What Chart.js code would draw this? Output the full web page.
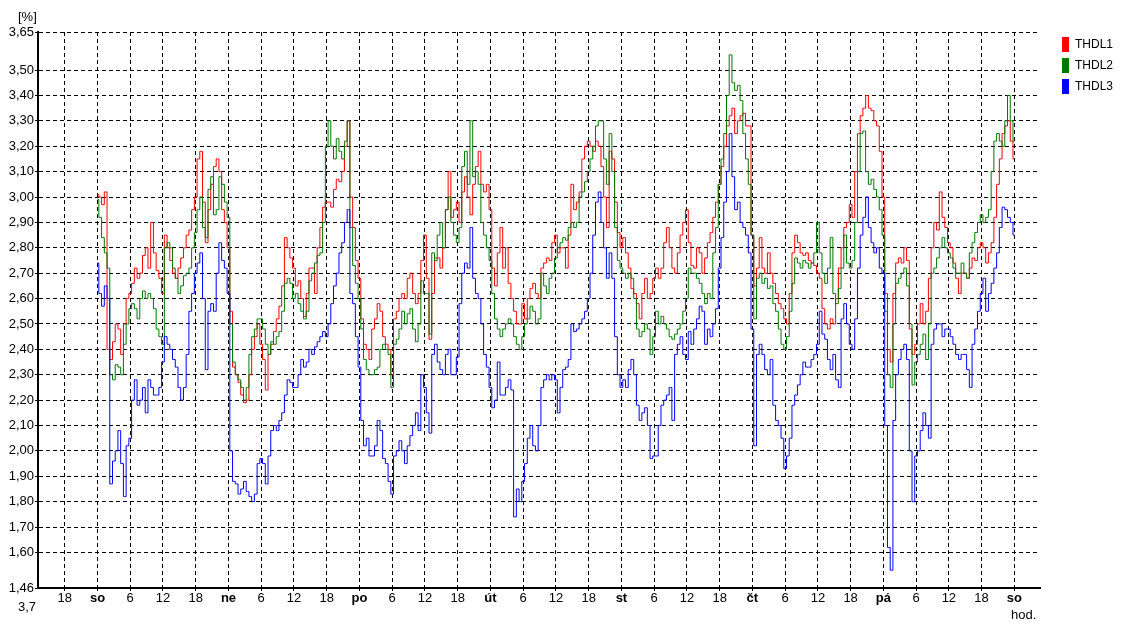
<!DOCTYPE html>
<html>
<head>
<meta charset="utf-8">
<script src="https://cdn.jsdelivr.net/npm/chart.js@4/dist/chart.umd.min.js"></script>
<style>
  html, body { margin: 0; padding: 0; background: #fff; }
  #wrap { position: relative; width: 1124px; height: 626px; font-family: "Liberation Sans", Arial, sans-serif; color: #000; }
  #chart { position: absolute; left: 0; top: 0; }
  .note { position: absolute; font-size: 13px; line-height: 13px; white-space: nowrap; }
  .key { position: absolute; left: 1062px; height: 15px; font-size: 12px; line-height: 15px; white-space: nowrap; }
  .key i { display: inline-block; width: 7px; height: 15px; vertical-align: top; margin-right: 6px; }
</style>
</head>
<body>
<div id="wrap">
  <canvas id="chart" width="1124" height="626"></canvas>
  <div class="note" style="left:18px; top:10px;">[%]</div>
  <div class="note" style="left:18px; top:600px;">3,7</div>
  <div class="note" style="left:1011px; top:608px;">hod.</div>
  <div class="key" style="top:37px;"><i style="background:#ff0000"></i>THDL1</div>
  <div class="key" style="top:58px;"><i style="background:#007800"></i>THDL2</div>
  <div class="key" style="top:79px;"><i style="background:#0000ff"></i>THDL3</div>
</div>
<script>
// Readings every 30 minutes, Saturday 00:00 through the following Saturday 00:00.
// Each row below spans six hours.
const sampleStepHours = 0.5;

const thdl1 = [
  3.01, 3.00, 2.97, 3.02, 2.40, 2.36, 2.43, 2.50, 2.48, 2.38, 2.50, 2.60, 2.62,
  2.66, 2.72, 2.68, 2.70, 2.77, 2.80, 2.72, 2.90, 2.78, 2.71, 2.68, 2.62,
  2.85, 2.80, 2.75, 2.70, 2.68, 2.72, 2.76, 2.80, 2.85, 2.87, 2.95, 3.00,
  3.15, 3.18, 2.98, 2.82, 2.95, 3.05, 3.12, 3.15, 3.10, 2.95, 2.90, 2.80,
  2.55, 2.33, 2.30, 2.27, 2.22, 2.19, 2.20, 2.30, 2.40, 2.45, 2.50, 2.42,
  2.36, 2.24, 2.38, 2.42, 2.47, 2.52, 2.57, 2.65, 2.84, 2.80, 2.76, 2.72,
  2.65, 2.67, 2.60, 2.53, 2.62, 2.72, 2.72, 2.62, 2.80, 2.88, 2.96, 2.98,
  2.98, 2.96, 3.03, 3.07, 3.06, 3.10, 3.20, 3.30, 3.00, 2.88, 2.75, 2.68,
  2.52, 2.42, 2.40, 2.36, 2.48, 2.52, 2.58, 2.55, 2.45, 2.42, 2.40, 2.30,
  2.52, 2.55, 2.60, 2.62, 2.60, 2.68, 2.70, 2.62, 2.58, 2.62, 2.75, 2.85,
  2.68, 2.44, 2.62, 2.76, 2.76, 2.72, 2.80, 2.95, 3.10, 2.92, 2.95, 2.98,
  2.90, 3.02, 3.08, 3.00, 2.93, 3.05, 3.12, 3.18, 3.05, 3.02, 3.05, 2.95,
  2.72, 2.65, 2.78, 2.88, 2.72, 2.80, 2.66, 2.60, 2.55, 2.50, 2.50, 2.58,
  2.52, 2.60, 2.64, 2.66, 2.62, 2.60, 2.72, 2.74, 2.76, 2.75, 2.82, 2.85,
  2.78, 2.80, 2.80, 2.72, 2.85, 3.05, 2.95, 2.98, 3.02, 3.15, 3.20, 3.22,
  3.20, 3.18, 3.22, 3.20, 3.12, 3.00, 2.88, 3.18, 3.15, 2.98, 2.86, 2.80,
  2.84, 2.78, 2.72, 2.64, 2.62, 2.58, 2.52, 2.62, 2.68, 2.60, 2.62, 2.68,
  2.72, 2.68, 2.72, 2.82, 2.88, 2.80, 2.72, 2.70, 2.78, 2.85, 2.90, 2.95,
  2.82, 2.73, 2.72, 2.80, 2.78, 2.70, 2.76, 2.82, 2.86, 2.92, 2.98, 3.05,
  3.12, 3.20, 3.28, 3.32, 3.35, 3.25, 3.30, 3.32, 3.33, 3.28, 3.28, 2.85,
  2.65, 2.72, 2.84, 2.72, 2.70, 2.78, 2.70, 2.66, 2.62, 2.58, 2.56, 2.52,
  2.50, 2.62, 2.78, 2.85, 2.82, 2.78, 2.77, 2.78, 2.75, 2.74, 2.73, 2.70,
  2.68, 2.56, 2.50, 2.48, 2.52, 2.50, 2.60, 2.72, 2.80, 2.88, 2.90, 2.97,
  2.92, 3.10, 3.25, 3.32, 3.35, 3.40, 3.35, 3.34, 3.30, 3.28, 3.18, 3.00,
  2.62, 2.40, 2.35, 2.62, 2.74, 2.76, 2.74, 2.80, 2.75, 2.48, 2.38, 2.42,
  2.50, 2.58, 2.50, 2.55, 2.68, 2.80, 2.90, 2.87, 3.02, 2.92, 2.88, 2.82,
  2.80, 2.74, 2.68, 2.62, 2.70, 2.70, 2.68, 2.72, 2.76, 2.75, 2.80, 2.82,
  2.80, 2.74, 2.78, 2.82, 2.92, 3.05, 3.15, 3.25, 3.28, 3.30, 3.22, 3.15
];

const thdl2 = [
  2.99, 2.92, 2.84, 2.78, 2.72, 2.30, 2.28, 2.34, 2.33, 2.30, 2.42, 2.50, 2.56,
  2.58, 2.56, 2.52, 2.60, 2.63, 2.60, 2.62, 2.60, 2.56, 2.48, 2.45, 2.42,
  2.80, 2.82, 2.80, 2.72, 2.68, 2.62, 2.65, 2.69, 2.70, 2.72, 2.80, 2.86,
  2.95, 3.00, 2.88, 2.84, 3.03, 3.08, 2.93, 2.95, 3.08, 3.05, 2.98, 2.92,
  2.50, 2.35, 2.30, 2.28, 2.25, 2.20, 2.25, 2.38, 2.45, 2.48, 2.52, 2.52,
  2.48, 2.42, 2.38, 2.43, 2.42, 2.45, 2.47, 2.55, 2.66, 2.68, 2.66, 2.60,
  2.62, 2.58, 2.55, 2.52, 2.55, 2.67, 2.70, 2.74, 2.77, 2.78, 2.90, 3.20,
  3.30, 3.20, 3.15, 3.23, 3.18, 3.15, 3.22, 3.30, 2.88, 2.73, 2.66, 2.60,
  2.48, 2.36, 2.32, 2.30, 2.30, 2.32, 2.33, 2.40, 2.42, 2.40, 2.38, 2.25,
  2.42, 2.44, 2.48, 2.55, 2.50, 2.54, 2.56, 2.48, 2.43, 2.50, 2.67, 2.62,
  2.62, 2.46, 2.78, 2.75, 2.85, 2.90, 2.80, 2.95, 3.00, 2.90, 2.85, 2.82,
  2.88, 3.12, 3.18, 3.05, 3.30, 3.08, 3.10, 3.05, 2.90, 2.85, 2.80, 2.75,
  2.62, 2.52, 2.48, 2.45, 2.48, 2.50, 2.52, 2.50, 2.45, 2.42, 2.40, 2.45,
  2.50, 2.52, 2.57, 2.55, 2.50, 2.52, 2.70, 2.65, 2.62, 2.68, 2.70, 2.76,
  2.80, 2.82, 2.84, 2.83, 2.88, 2.90, 2.88, 2.90, 3.00, 3.02, 3.06, 3.10,
  3.15, 3.20, 3.28, 3.30, 3.30, 3.15, 3.05, 3.25, 3.10, 2.88, 2.75, 2.72,
  2.70, 2.68, 2.70, 2.68, 2.60, 2.48, 2.45, 2.47, 2.50, 2.48, 2.38, 2.45,
  2.55, 2.50, 2.53, 2.50, 2.48, 2.45, 2.44, 2.46, 2.48, 2.50, 2.55, 2.60,
  2.72, 2.70, 2.70, 2.68, 2.66, 2.62, 2.58, 2.62, 2.60, 2.78, 2.88, 3.05,
  3.15, 3.25, 3.40, 3.56, 3.45, 3.42, 3.44, 3.38, 3.25, 3.15, 3.05, 2.85,
  2.52, 2.68, 2.70, 2.66, 2.68, 2.64, 2.65, 2.58, 2.55, 2.48, 2.42, 2.40,
  2.45, 2.55, 2.66, 2.76, 2.74, 2.72, 2.75, 2.74, 2.72, 2.74, 2.78, 2.90,
  2.78, 2.70, 2.66, 2.72, 2.84, 2.62, 2.58, 2.64, 2.72, 2.85, 2.74, 2.72,
  2.75, 2.90, 3.10, 3.25, 3.26, 3.10, 3.05, 3.07, 3.03, 3.00, 2.95, 2.85,
  2.55, 2.30, 2.25, 2.50, 2.66, 2.68, 2.70, 2.72, 2.65, 2.50, 2.26, 2.35,
  2.38, 2.42, 2.46, 2.36, 2.50, 2.70, 2.72, 2.76, 2.80, 2.84, 2.80, 2.78,
  2.76, 2.72, 2.70, 2.70, 2.74, 2.70, 2.68, 2.78, 2.82, 2.86, 2.90, 2.93,
  2.90, 2.92, 2.95, 3.10, 3.22, 3.25, 3.22, 3.20, 3.30, 3.40, 3.30, 3.22
];

const thdl3 = [
  2.74, 2.62, 2.57, 2.65, 2.60, 1.87, 1.96, 2.00, 2.08, 1.95, 1.82, 2.02, 2.05,
  2.20, 2.28, 2.18, 2.20, 2.25, 2.15, 2.28, 2.25, 2.22, 2.22, 2.25, 2.35,
  2.45, 2.42, 2.40, 2.36, 2.33, 2.25, 2.20, 2.25, 2.38, 2.55, 2.62, 2.70,
  2.74, 2.78, 2.60, 2.32, 2.55, 2.58, 2.55, 2.70, 2.82, 2.75, 2.72, 2.62,
  2.00, 1.88, 1.87, 1.83, 1.85, 1.88, 1.84, 1.82, 1.80, 1.83, 1.95, 1.97,
  1.95, 1.87, 1.98, 2.08, 2.10, 2.08, 2.12, 2.15, 2.22, 2.28, 2.27, 2.25,
  2.25, 2.30, 2.36, 2.33, 2.35, 2.40, 2.38, 2.41, 2.43, 2.45, 2.47, 2.45,
  2.50, 2.58, 2.65, 2.70, 2.78, 2.82, 2.90, 2.95, 2.62, 2.58, 2.45, 2.33,
  2.12, 2.02, 2.05, 1.98, 1.98, 2.02, 2.12, 2.08, 1.97, 1.95, 1.88, 1.83,
  1.98, 2.00, 2.04, 2.00, 1.95, 2.02, 2.06, 2.10, 2.15, 2.08, 2.30, 2.25,
  2.15, 2.07, 2.38, 2.42, 2.35, 2.32, 2.30, 2.38, 2.40, 2.30, 2.30, 2.37,
  2.58, 2.70, 2.74, 2.72, 2.88, 2.68, 2.62, 2.60, 2.50, 2.38, 2.33, 2.25,
  2.17, 2.20, 2.35, 2.22, 2.22, 2.25, 2.28, 2.24, 1.74, 1.85, 1.80, 1.88,
  1.95, 2.05, 2.10, 2.02, 2.00, 2.10, 2.25, 2.28, 2.30, 2.28, 2.30, 2.28,
  2.15, 2.25, 2.32, 2.33, 2.36, 2.50, 2.47, 2.48, 2.50, 2.52, 2.55, 2.60,
  2.70, 2.85, 2.98, 3.02, 2.90, 2.80, 2.68, 2.78, 2.68, 2.45, 2.30, 2.25,
  2.28, 2.25, 2.32, 2.36, 2.30, 2.18, 2.12, 2.15, 2.17, 2.10, 1.97, 1.98,
  1.98, 2.10, 2.18, 2.20, 2.22, 2.25, 2.12, 2.38, 2.42, 2.45, 2.38, 2.36,
  2.47, 2.42, 2.48, 2.52, 2.57, 2.55, 2.42, 2.48, 2.45, 2.50, 2.56, 2.72,
  2.84, 2.98, 3.10, 3.25, 3.08, 2.95, 2.98, 2.90, 2.88, 2.85, 2.78, 2.48,
  2.02, 2.38, 2.42, 2.38, 2.32, 2.30, 2.36, 2.18, 2.12, 2.10, 2.05, 1.93,
  1.98, 2.05, 2.18, 2.22, 2.26, 2.30, 2.35, 2.33, 2.33, 2.36, 2.38, 2.42,
  2.55, 2.46, 2.44, 2.36, 2.32, 2.38, 2.28, 2.25, 2.52, 2.58, 2.50, 2.42,
  2.40, 2.52, 2.72, 2.85, 2.92, 3.00, 2.88, 2.82, 2.78, 2.80, 2.72, 2.70,
  2.10, 1.62, 1.53, 2.12, 2.30, 2.36, 2.40, 2.42, 2.36, 2.00, 1.80, 1.98,
  2.00, 2.08, 2.15, 2.10, 2.05, 2.42, 2.48, 2.50, 2.50, 2.45, 2.48, 2.48,
  2.45, 2.42, 2.38, 2.36, 2.38, 2.38, 2.32, 2.25, 2.42, 2.48, 2.55, 2.62,
  2.68, 2.55, 2.62, 2.66, 2.72, 2.78, 2.88, 2.96, 2.95, 2.92, 2.90, 2.85
];

// Axis ticks
const yTickValues = [1.46, 1.60, 1.70, 1.80, 1.90, 2.00, 2.10, 2.20, 2.30, 2.40, 2.50, 2.60, 2.70, 2.80, 2.90, 3.00, 3.10, 3.20, 3.30, 3.40, 3.50, 3.65];
const xTickHours = [-6, 0, 6, 12, 18, 24, 30, 36, 42, 48, 54, 60, 66, 72, 78, 84, 90, 96, 102, 108, 114, 120, 126, 132, 138, 144, 150, 156, 162, 168];
const dayNames = ['so', 'ne', 'po', 'út', 'st', 'čt', 'pá', 'so'];
const xRange = { min: -10.9, max: 172.7 };
const yRange = { min: 1.46, max: 3.65 };

const FONT = '"Liberation Sans", Arial, sans-serif';

function toPoints(values) {
  return values.map((v, i) => ({ x: i * sampleStepHours, y: v }));
}

function hourLabel(h) {
  if (h % 24 === 0) return dayNames[h / 24];
  return String(((h % 24) + 24) % 24);
}

const ctx = document.getElementById('chart').getContext('2d');
new Chart(ctx, {
  type: 'line',
  data: {
    datasets: [
      { label: 'THDL1', data: toPoints(thdl1), borderColor: '#ff0000', order: 2 },
      { label: 'THDL2', data: toPoints(thdl2), borderColor: '#007800', order: 1 },
      { label: 'THDL3', data: toPoints(thdl3), borderColor: '#0000ff', order: 0 }
    ]
  },
  options: {
    responsive: false,
    animation: false,
    devicePixelRatio: 1,
    layout: { padding: { top: 32, right: 84, left: 0, bottom: 0 } },
    elements: {
      line: { borderWidth: 1, tension: 0, fill: false, stepped: 'middle' },
      point: { radius: 0, hoverRadius: 0 }
    },
    plugins: { legend: { display: false }, tooltip: { enabled: false } },
    scales: {
      x: {
        type: 'linear',
        min: xRange.min,
        max: xRange.max,
        afterBuildTicks: (scale) => { scale.ticks = xTickHours.map(v => ({ value: v })); },
        afterFit: (scale) => { scale.height = 38; },
        ticks: {
          autoSkip: false,
          maxRotation: 0,
          padding: 0,
          color: '#000',
          callback: (v) => hourLabel(v),
          font: (c) => ({
            family: FONT,
            size: 13,
            weight: (c.tick && c.tick.value % 24 === 0) ? 'bold' : 'normal'
          })
        },
        grid: { color: '#000', lineWidth: 1, tickLength: 3, tickColor: '#000' },
        border: { display: true, color: '#000', width: 2, dash: [4, 3] }
      },
      y: {
        type: 'linear',
        min: yRange.min,
        max: yRange.max,
        afterBuildTicks: (scale) => { scale.ticks = yTickValues.map(v => ({ value: v })); },
        afterFit: (scale) => { scale.width = 38; },
        ticks: {
          padding: 1,
          color: '#000',
          font: { family: FONT, size: 13 },
          callback: (v) => v.toFixed(2).replace('.', ',')
        },
        grid: { color: '#000', lineWidth: 1, tickLength: 3, tickColor: '#000' },
        border: { display: true, color: '#000', width: 2, dash: [4, 3] }
      }
    }
  }
});
</script>
</body>
</html>
